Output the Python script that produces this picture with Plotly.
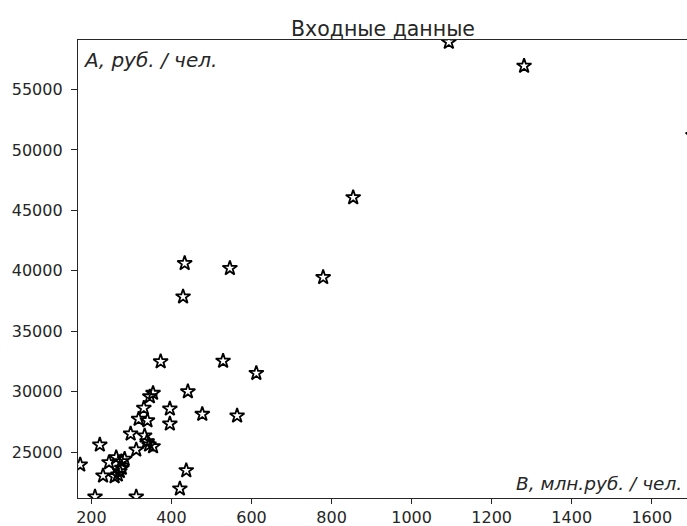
import plotly.graph_objects as go

# Data
b_values = [172, 209, 221, 244, 229, 258, 262, 275, 283, 271, 276, 266, 298, 312, 312,
            318, 331, 340, 333, 339, 344, 354, 346, 354, 373, 396, 396, 441, 437, 421,
            477, 529, 564, 612, 433, 546, 429, 779, 854, 1093, 1281, 1703]
a_values = [23950, 21300, 25600, 24140, 23040, 22980, 24550, 24220, 24420, 23400, 23680,
            23120, 26510, 25190, 21300, 27730, 28640, 27610, 26350, 25880, 25600, 25460,
            29590, 29880, 32490, 28580, 27340, 30010, 23480, 21970, 28140, 32540, 28000,
            31530, 40620, 40210, 37860, 39460, 46070, 58930, 56950, 51220]

x_ticks = [200, 400, 600, 800, 1000, 1200, 1400, 1600]
y_ticks = [25000, 30000, 35000, 40000, 45000, 50000, 55000]

title_text = "Входные данные"
y_label = "А, руб. / чел."
x_label = "В, млн.руб. / чел."

FONT = "DejaVu Sans"

fig = go.Figure()
fig.add_trace(go.Scatter(
    x=b_values, y=a_values, mode="markers",
    marker=dict(symbol="star-open", size=11, color="black", line=dict(width=1.8, color="black")),
    showlegend=False, cliponaxis=True,
))

fig.update_layout(
    width=687, height=526,
    margin=dict(l=78, r=0, t=40, b=28),
    paper_bgcolor="white", plot_bgcolor="white",
    font=dict(family=FONT, size=16, color="#262626"),
    xaxis=dict(range=[166.5, 1688], tickvals=x_ticks, ticktext=[str(v) for v in x_ticks],
               showgrid=False, zeroline=False, showline=True, linecolor="#262626", linewidth=1.3,
               mirror=True, ticks="outside", ticklen=5, tickcolor="#262626", tickwidth=1.2),
    yaxis=dict(range=[21200, 59100], tickvals=y_ticks, ticktext=[str(v) for v in y_ticks],
               showgrid=False, zeroline=False, showline=True, linecolor="#262626", linewidth=1.3,
               ticks="outside", ticklen=6, tickcolor="#262626", tickwidth=1.2,
               ticklabelstandoff=5),
    annotations=[
        dict(text=title_text, xref="paper", yref="paper", x=0.5, y=1, xanchor="center",
             yanchor="bottom", yshift=-3, showarrow=False, font=dict(family=FONT, size=20.5, color="#262626")),
        dict(text=y_label, xref="paper", yref="paper", x=0, y=1, xanchor="left", yanchor="top",
             xshift=3, yshift=-6, showarrow=False,
             font=dict(family=FONT, size=20, color="#262626", style="italic")),
        dict(text=x_label, xref="paper", yref="paper", x=1, y=0, xanchor="right", yanchor="bottom",
             xshift=-3, yshift=2, showarrow=False,
             font=dict(family=FONT, size=18.5, color="#262626", style="italic")),
    ],
)

# remove the default 8px page margin so the figure fills the 687x526 window exactly
fig.write_html("out.html", config={"displayModeBar": False},
               post_script="document.body.style.margin='0';")
